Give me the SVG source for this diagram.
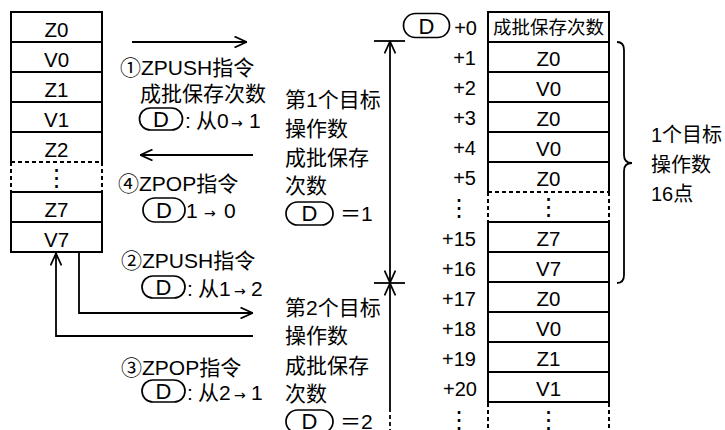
<svg xmlns="http://www.w3.org/2000/svg" width="725" height="430" viewBox="0 0 725 430">
<defs>
<style>
text{font-family:"Liberation Sans",Arial,"Noto Sans CJK SC",sans-serif;fill:#000}
.box{font-size:20.5px;text-anchor:middle}
.off{font-size:20px;text-anchor:end}
.cn{font-size:21px}
.cnr{font-size:20px}
.hdr{font-size:18.5px;text-anchor:middle}
.dd{font-size:22px;text-anchor:middle}
.arr{font-family:"DejaVu Sans",sans-serif;font-size:14px}
.vd{font-family:"DejaVu Sans",sans-serif;font-size:24px;text-anchor:middle}
.cell{fill:#fff;stroke:#000;stroke-width:2}
.solid{fill:none;stroke:#000;stroke-width:2}
.dash{fill:none;stroke:#000;stroke-width:2;stroke-dasharray:4 3}
.oval{fill:none;stroke:#000;stroke-width:1.7}
.ln{fill:none;stroke:#000;stroke-width:1.8}
</style>
<marker id="ah" viewBox="0 0 13 12" refX="13" refY="6" markerWidth="13" markerHeight="12" markerUnits="userSpaceOnUse" orient="auto-start-reverse">
<path d="M0.5,0.5 L12.5,6 L0.5,11.5" fill="none" stroke="#000" stroke-width="1.8"/>
</marker>
</defs>
<rect width="725" height="430" fill="#fff"/>

<!-- Left stack -->
<g id="left-stack">
<g id="L-Z0"><rect class="cell" x="11" y="12" width="91" height="30"/><text class="box" x="56.5" y="37">Z0</text></g>
<g id="L-V0"><rect class="cell" x="11" y="42" width="91" height="30"/><text class="box" x="56.5" y="67">V0</text></g>
<g id="L-Z1"><rect class="cell" x="11" y="72" width="91" height="30"/><text class="box" x="56.5" y="97">Z1</text></g>
<g id="L-V1"><rect class="cell" x="11" y="102" width="91" height="30"/><text class="box" x="56.5" y="127">V1</text></g>
<g id="L-Z2"><path class="solid" d="M11,162 V132 H102 V162"/><text class="box" x="56.5" y="157">Z2</text></g>
<g id="L-dots"><path class="dash" d="M11,162 H102 M11,162 V192 M102,162 V192"/><text class="vd" x="56.5" y="186">⋮</text></g>
<g id="L-Z7"><rect class="cell" x="11" y="192" width="91" height="30"/><text class="box" x="56.5" y="217">Z7</text></g>
<g id="L-V7"><rect class="cell" x="11" y="222" width="91" height="30"/><text class="box" x="56.5" y="247">V7</text></g>
</g>

<!-- Right stack -->
<g id="right-stack">
<g id="R-0"><rect class="cell" x="488" y="12" width="121" height="30"/><text class="hdr" x="548.5" y="34">成批保存次数</text></g>
<g id="R-1"><rect class="cell" x="488" y="42" width="121" height="30"/><text class="box" x="548.5" y="66">Z0</text></g>
<g id="R-2"><rect class="cell" x="488" y="72" width="121" height="30"/><text class="box" x="548.5" y="96">V0</text></g>
<g id="R-3"><rect class="cell" x="488" y="102" width="121" height="30"/><text class="box" x="548.5" y="126">Z0</text></g>
<g id="R-4"><rect class="cell" x="488" y="132" width="121" height="30"/><text class="box" x="548.5" y="156">V0</text></g>
<g id="R-5"><path class="solid" d="M488,192 V162 H609 V192"/><text class="box" x="548.5" y="186">Z0</text></g>
<g id="R-dots1"><path class="dash" d="M488,192 H609 M488,192 V222 M609,192 V222"/><text class="vd" x="548.5" y="215">⋮</text></g>
<g id="R-15"><rect class="cell" x="488" y="222" width="121" height="30"/><text class="box" x="548.5" y="246">Z7</text></g>
<g id="R-16"><rect class="cell" x="488" y="252" width="121" height="30"/><text class="box" x="548.5" y="276">V7</text></g>
<g id="R-17"><rect class="cell" x="488" y="282" width="121" height="30"/><text class="box" x="548.5" y="306">Z0</text></g>
<g id="R-18"><rect class="cell" x="488" y="312" width="121" height="30"/><text class="box" x="548.5" y="336">V0</text></g>
<g id="R-19"><rect class="cell" x="488" y="342" width="121" height="30"/><text class="box" x="548.5" y="366">Z1</text></g>
<g id="R-20"><rect class="cell" x="488" y="372" width="121" height="30"/><text class="box" x="548.5" y="396">V1</text></g>
<g id="R-dots2"><path class="dash" d="M488,403 V432 M609,403 V432"/><text class="vd" x="548.5" y="428">⋮</text></g>
</g>

<!-- Offsets -->
<g id="offsets">
<g id="D-ref-top"><rect class="oval" x="403.5" y="13.5" width="46" height="24" rx="12"/><text class="dd" x="426.5" y="33.5">D</text></g>
<text class="off" x="477" y="35">+0</text>
<text class="off" x="476" y="65">+1</text>
<text class="off" x="476" y="95">+2</text>
<text class="off" x="476" y="125">+3</text>
<text class="off" x="476" y="155">+4</text>
<text class="off" x="476" y="185">+5</text>
<text class="vd" x="459" y="216">⋮</text>
<text class="off" x="476" y="246">+15</text>
<text class="off" x="476" y="276">+16</text>
<text class="off" x="476" y="306">+17</text>
<text class="off" x="476" y="336">+18</text>
<text class="off" x="476" y="366">+19</text>
<text class="off" x="477" y="396">+20</text>
<text class="vd" x="459" y="428">⋮</text>
</g>

<!-- Brace and label -->
<g id="brace">
<path class="ln" d="M617,42 Q624,42 624,50 V155 Q624,163 632,163 Q624,163 624,171 V275 Q624,283 617,283"/>
<text class="cnr" x="651" y="142">1个目标</text>
<text class="cnr" x="651" y="172">操作数</text>
<text class="cnr" x="651" y="201">16点</text>
</g>

<!-- Instruction labels -->
<g id="label-zpush1">
<text class="cn" x="120" y="75">①ZPUSH指令</text>
<text class="cn" x="140" y="101">成批保存次数</text>
<rect class="oval" x="139.5" y="108" width="43" height="22" rx="11"/><text class="dd" x="161" y="127">D</text>
<text class="cn" y="128"><tspan x="185">:</tspan><tspan x="196">从0</tspan><tspan class="arr" x="231">→</tspan><tspan x="249">1</tspan></text>
</g>
<g id="label-zpop4">
<text class="cn" x="118" y="191">④ZPOP指令</text>
<rect class="oval" x="143" y="198" width="42" height="24" rx="12"/><text class="dd" x="164" y="218">D</text>
<text class="cn" y="218"><tspan x="186">1</tspan><tspan class="arr" x="204">→</tspan><tspan x="224">0</tspan></text>
</g>
<g id="label-zpush2">
<text class="cn" x="121" y="268">②ZPUSH指令</text>
<rect class="oval" x="142" y="276" width="43" height="22" rx="11"/><text class="dd" x="163.5" y="295">D</text>
<text class="cn" y="296"><tspan x="187">:</tspan><tspan x="198">从1</tspan><tspan class="arr" x="234">→</tspan><tspan x="251">2</tspan></text>
</g>
<g id="label-zpop3">
<text class="cn" x="121" y="375">③ZPOP指令</text>
<rect class="oval" x="142" y="380" width="43" height="22" rx="11"/><text class="dd" x="163.5" y="399">D</text>
<text class="cn" y="400"><tspan x="187">:</tspan><tspan x="198">从2</tspan><tspan class="arr" x="234">→</tspan><tspan x="251">1</tspan></text>
</g>

<!-- Middle labels -->
<g id="label-target1">
<text class="cn" x="285" y="107">第1个目标</text>
<text class="cn" x="285" y="136">操作数</text>
<text class="cn" x="285" y="165">成批保存</text>
<text class="cn" x="285" y="193">次数</text>
<rect class="oval" x="286" y="202" width="47" height="23" rx="11.5"/><text class="dd" x="309.5" y="221">D</text>
<text class="cn" x="340" y="221">＝1</text>
</g>
<g id="label-target2">
<text class="cn" x="285" y="315">第2个目标</text>
<text class="cn" x="285" y="343">操作数</text>
<text class="cn" x="285" y="373">成批保存</text>
<text class="cn" x="285" y="401">次数</text>
<rect class="oval" x="286" y="410" width="47" height="23" rx="11.5"/><text class="dd" x="309.5" y="429">D</text>
<text class="cn" x="340" y="429">＝2</text>
</g>

<!-- Connectors -->
<g id="connectors">
<line class="ln" x1="132" y1="42" x2="247" y2="42" marker-end="url(#ah)"/>
<line class="ln" x1="253" y1="155" x2="140" y2="155" marker-end="url(#ah)"/>
<path class="ln" d="M79,252 V313 H253" marker-end="url(#ah)"/>
<path class="ln" d="M253,336 H56 V253" marker-end="url(#ah)"/>
<line class="ln" x1="374" y1="41" x2="405" y2="41"/>
<line class="ln" x1="374" y1="283" x2="405" y2="283"/>
<line class="ln" x1="390" y1="41" x2="390" y2="283" marker-start="url(#ah)" marker-end="url(#ah)"/>
<line class="ln" x1="390" y1="408" x2="390" y2="283" marker-end="url(#ah)"/>
<line class="ln" x1="390" y1="408" x2="390" y2="432" stroke-dasharray="4 3"/>
</g>
</svg>
